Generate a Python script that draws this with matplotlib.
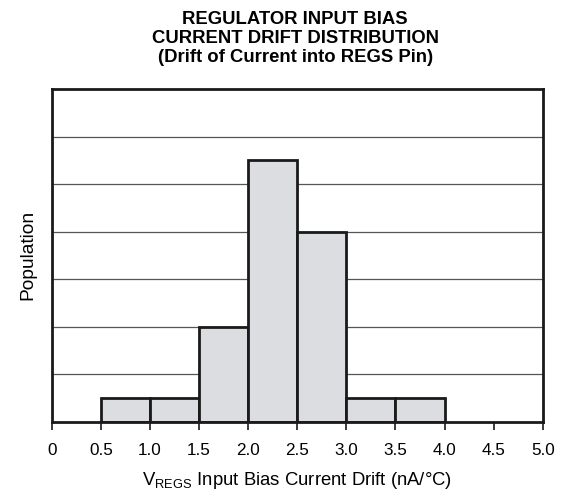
import matplotlib
matplotlib.use("Agg")
import matplotlib.pyplot as plt

plt.rcParams['font.family'] = ['Liberation Sans', 'DejaVu Sans']

bin_edges = [0.5, 1.0, 1.5, 2.0, 2.5, 3.0, 3.5, 4.0]
population = [0.5, 0.5, 2.0, 5.5, 4.0, 0.5, 0.5]
x_ticks = [0, 0.5, 1.0, 1.5, 2.0, 2.5, 3.0, 3.5, 4.0, 4.5, 5.0]
x_tick_labels = ["0", "0.5", "1.0", "1.5", "2.0", "2.5", "3.0", "3.5", "4.0", "4.5", "5.0"]
grid_levels = [1, 2, 3, 4, 5, 6]

fig = plt.figure(figsize=(5.71, 4.95), dpi=100)
ax = fig.add_axes([0.0905, 0.148, 0.860, 0.672])

for y in grid_levels:
    ax.axhline(y, color='#555555', lw=0.9, zorder=1)

lefts = bin_edges[:-1]
widths = [b - a for a, b in zip(bin_edges[:-1], bin_edges[1:])]
ax.bar(lefts, population, width=widths, align='edge', color='#dcdde0',
       edgecolor='#1a1a1a', linewidth=2.0, zorder=2)

ax.set_xlim(0, 5.0)
ax.set_ylim(0, 7)
ax.set_xticks(x_ticks)
ax.set_xticklabels(x_tick_labels, fontsize=12.3)
ax.set_yticks([])
ax.tick_params(axis='x', direction='out', length=6, width=1.2, pad=9, color='#1a1a1a')
for s in ax.spines.values():
    s.set_linewidth(2.0)
    s.set_color('#1a1a1a')

ax.set_ylabel("Population", fontsize=13.8, labelpad=11)
ax.set_xlabel(r"V$_{\mathregular{REGS}}$ Input Bias Current Drift (nA/°C)", fontsize=13.3, labelpad=9)

fig.text(0.517, 0.977, "REGULATOR INPUT BIAS\nCURRENT DRIFT DISTRIBUTION\n(Drift of Current into REGS Pin)",
         ha='center', va='top', fontsize=13.3, fontweight='bold', linespacing=1.12)

fig.savefig("out.png", dpi=100)
